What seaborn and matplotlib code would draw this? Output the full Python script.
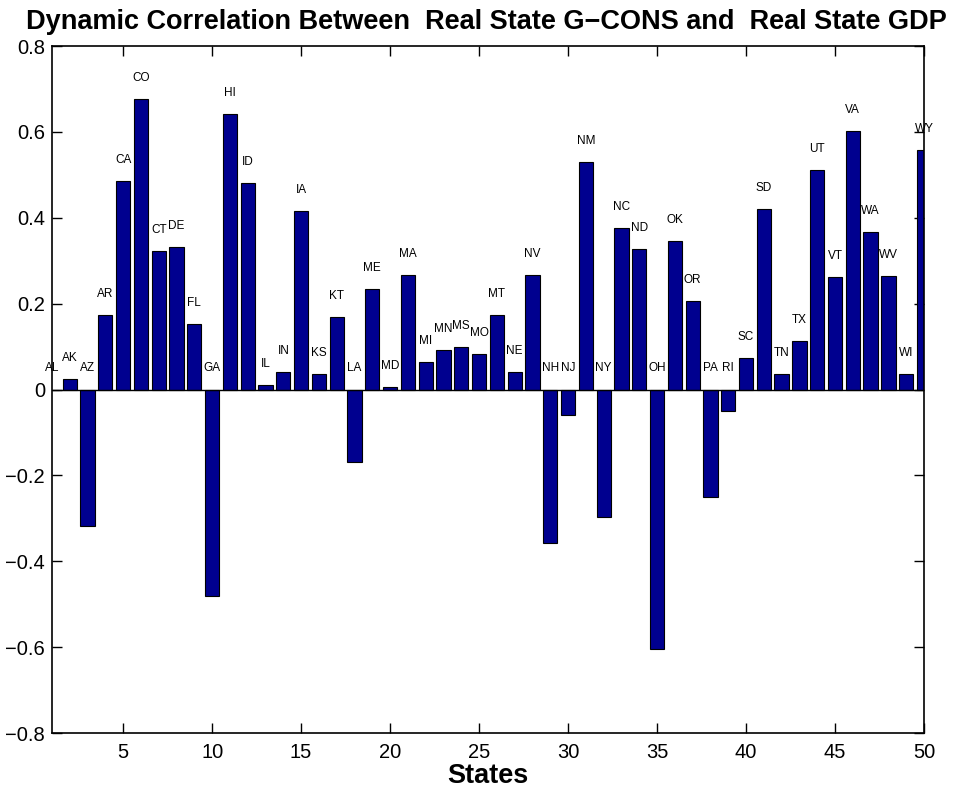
import numpy as np
import pandas as pd
import matplotlib
matplotlib.use('Agg')
import matplotlib.pyplot as plt
import seaborn as sns

states = ['AL', 'AK', 'AZ', 'AR', 'CA', 'CO', 'CT', 'DE', 'FL', 'GA',
          'HI', 'ID', 'IL', 'IN', 'IA', 'KS', 'KT', 'LA', 'ME', 'MD',
          'MA', 'MI', 'MN', 'MS', 'MO', 'MT', 'NE', 'NV', 'NH', 'NJ',
          'NM', 'NY', 'NC', 'ND', 'OH', 'OK', 'OR', 'PA', 'RI', 'SC',
          'SD', 'TN', 'TX', 'UT', 'VT', 'VA', 'WA', 'WV', 'WI', 'WY']
corr = [0.000, 0.024, -0.318, 0.173, 0.486, 0.677, 0.322, 0.331, 0.153, -0.482,
        0.641, 0.482, 0.010, 0.040, 0.416, 0.036, 0.170, -0.169, 0.233, 0.006,
        0.267, 0.063, 0.091, 0.098, 0.083, 0.174, 0.040, 0.267, -0.358, -0.060,
        0.530, -0.296, 0.377, 0.327, -0.605, 0.347, 0.207, -0.250, -0.050, 0.073,
        0.420, 0.036, 0.112, 0.512, 0.263, 0.601, 0.367, 0.265, 0.037, 0.557]
x_ticks = [5, 10, 15, 20, 25, 30, 35, 40, 45, 50]
y_ticks = [-0.8, -0.6, -0.4, -0.2, 0, 0.2, 0.4, 0.6, 0.8]

df = pd.DataFrame({'idx': np.arange(1, len(states) + 1), 'state': states, 'corr': corr})

sns.set_style('ticks')
plt.rcParams['font.family'] = ['Liberation Sans', 'DejaVu Sans']
plt.rcParams['xtick.direction'] = 'in'
plt.rcParams['ytick.direction'] = 'in'
plt.rcParams['text.color'] = 'black'
plt.rcParams['xtick.color'] = 'black'
plt.rcParams['ytick.color'] = 'black'
plt.rcParams['axes.labelcolor'] = 'black'

fig = plt.figure(figsize=(9.57, 7.94), dpi=100)
ax = fig.add_axes([0.0543, 0.0768, 0.9112, 0.8652])

sns.barplot(data=df, x='idx', y='corr', native_scale=True, width=0.8,
            color='#00008F', saturation=1, edgecolor='black', linewidth=0.8, ax=ax)
ax.axhline(0, color='black', lw=1.0, zorder=3)

for i, s, v in zip(df['idx'], df['state'], df['corr']):
    ax.text(i, max(v, 0) + 0.049, s, ha='center', va='center', fontsize=8.5)

ax.set_xlim(1, 50)
ax.set_ylim(-0.8, 0.8)
ax.set_xticks(x_ticks)
ax.set_xticklabels([str(t) for t in x_ticks])
ax.set_yticks(y_ticks)
ax.set_yticklabels(['\u22120.8', '\u22120.6', '\u22120.4', '\u22120.2', '0', '0.2', '0.4', '0.6', '0.8'])
ax.tick_params(axis='both', labelsize=14.5, length=7, width=1, top=True, right=True)
ax.tick_params(axis='x', pad=7)
ax.tick_params(axis='y', pad=5)
for sp in ax.spines.values():
    sp.set_visible(True)
    sp.set_linewidth(1.2)
    sp.set_color('black')

ax.set_xlabel('States', fontsize=19.5, fontweight='bold', labelpad=1)
ax.set_ylabel('')
fig.text(0.508, 0.972, 'Dynamic Correlation Between  Real State G\u2212CONS and  Real State GDP',
         ha='center', va='center', fontsize=19.5, fontweight='bold')

fig.savefig('out.png', dpi=100)
